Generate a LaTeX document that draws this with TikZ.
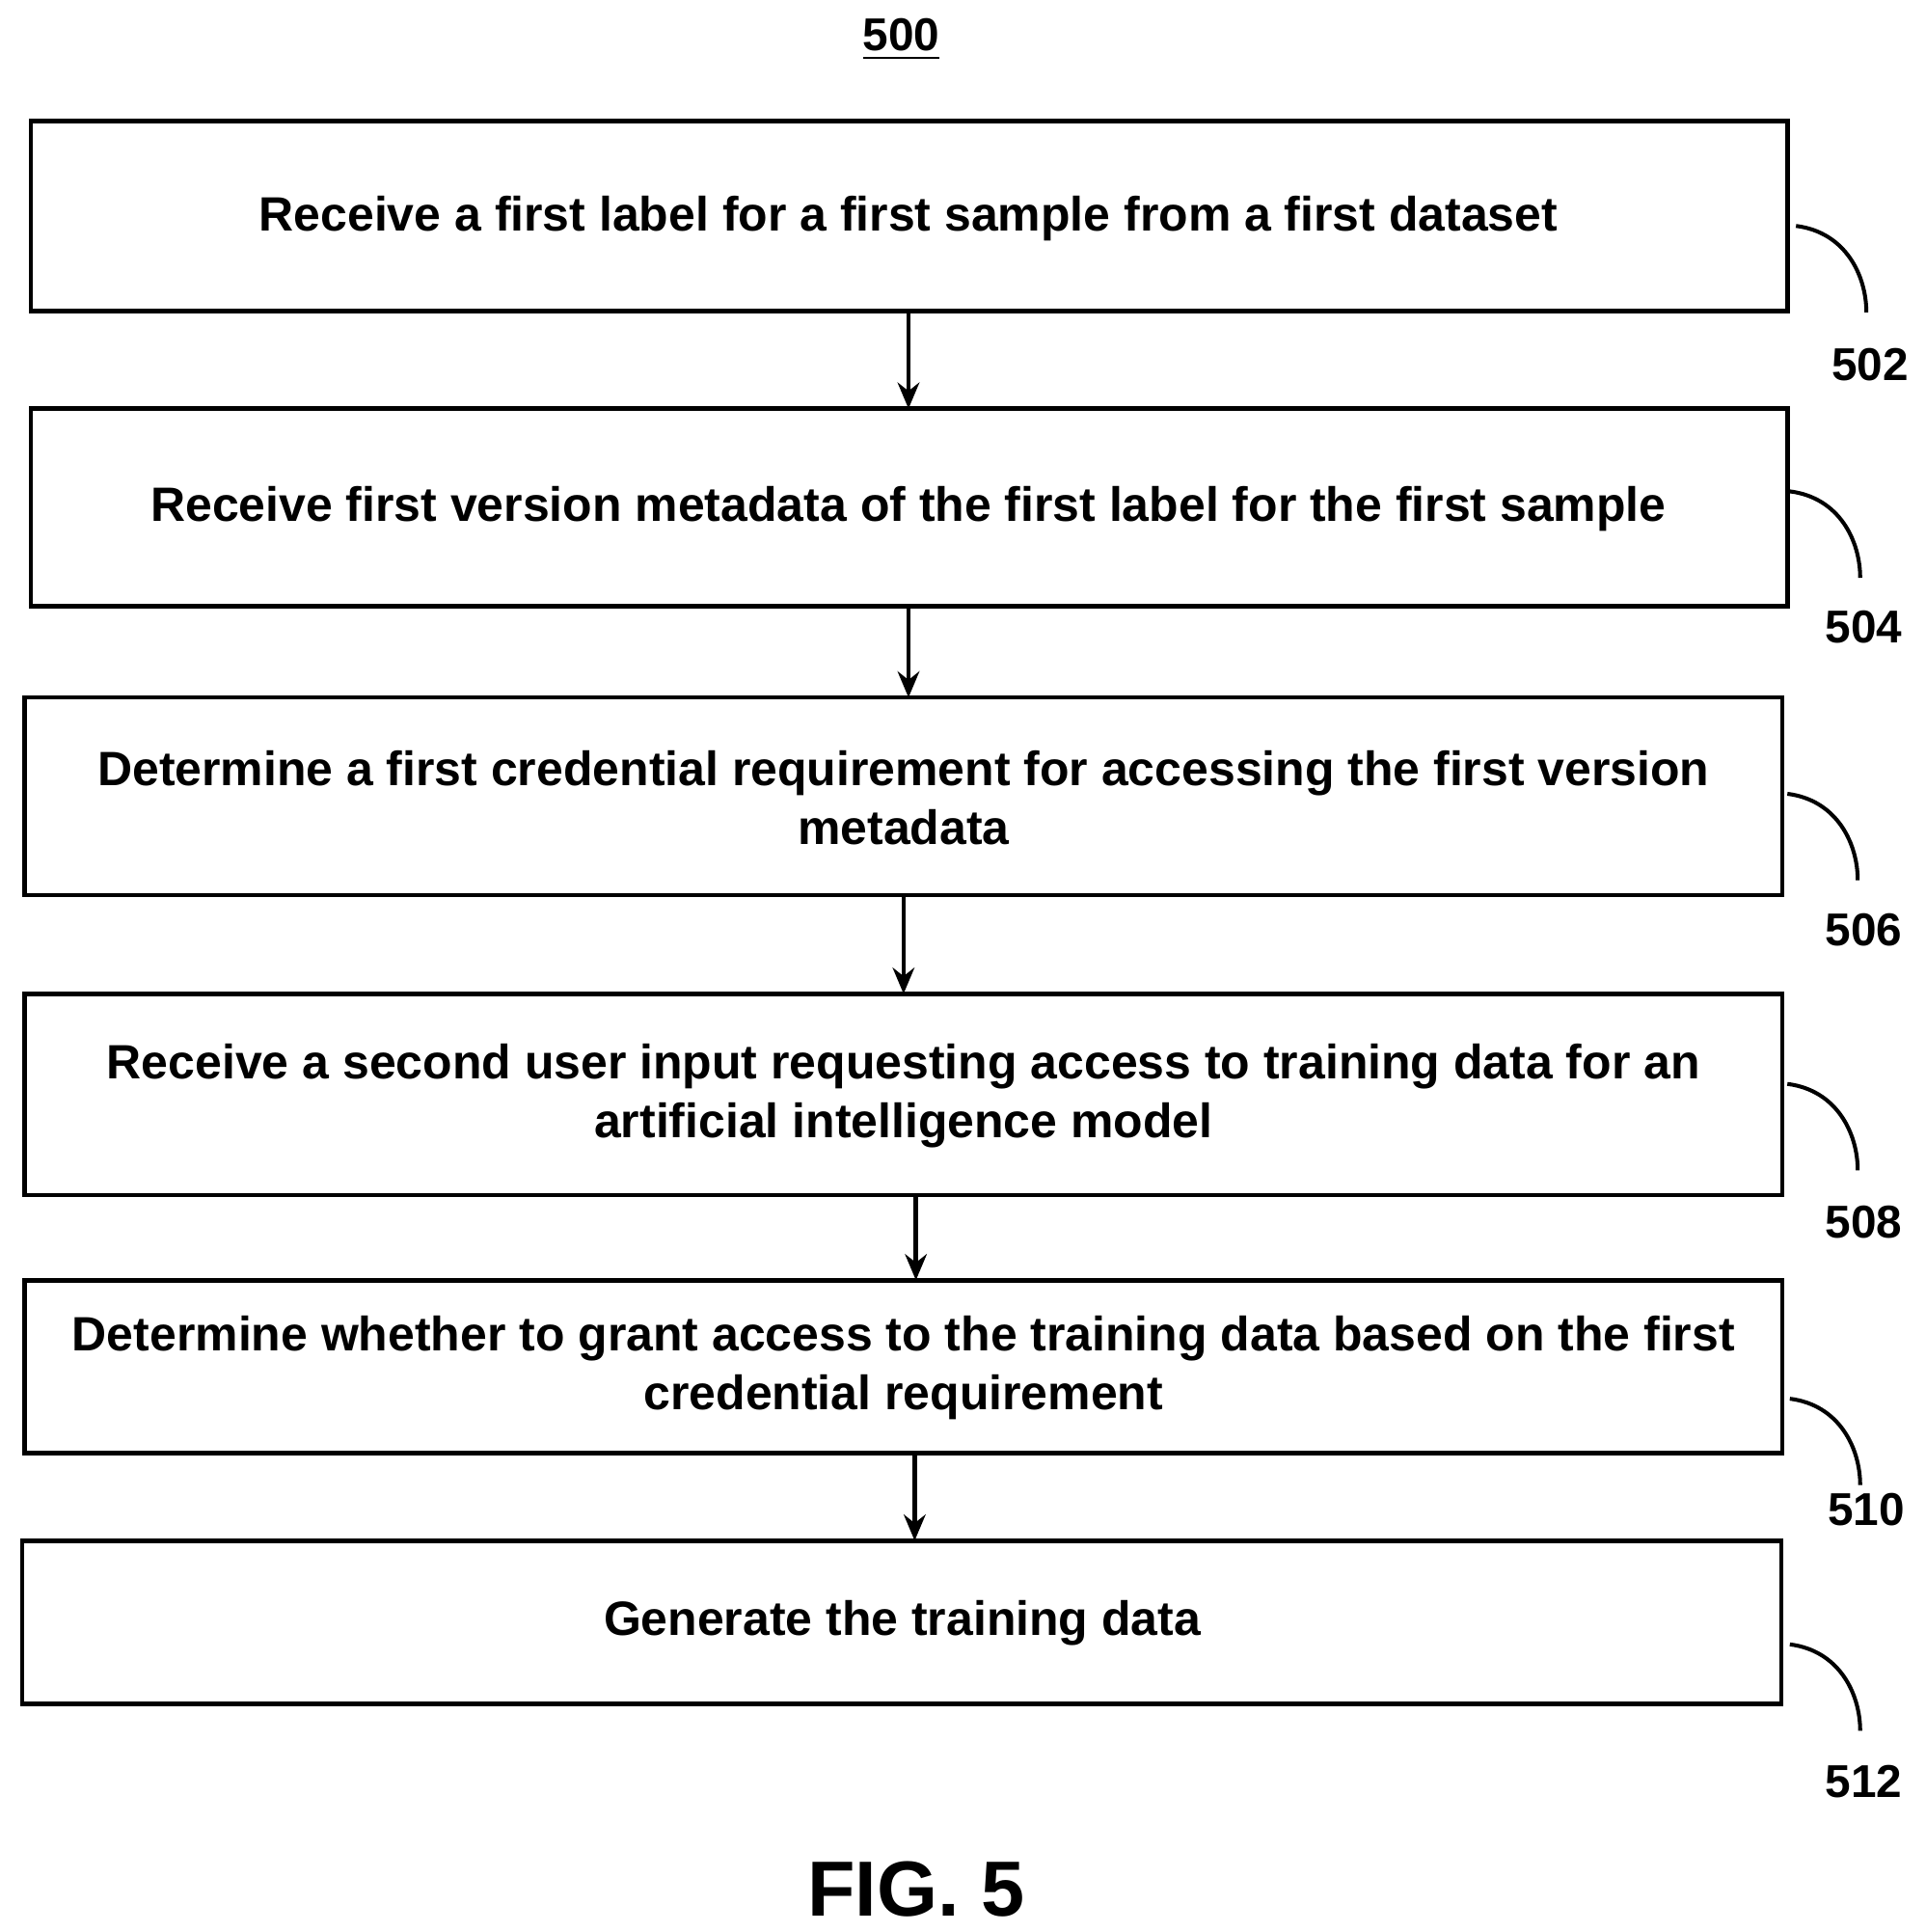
\documentclass[tikz,border=0pt]{standalone}
\usepackage{fontspec}
\setmainfont{Liberation Sans}
\usetikzlibrary{arrows.meta}
\begin{document}
\begin{tikzpicture}[x=0.01cm,y=-0.01cm,
 box/.style={draw,line width=1pt},
 txt/.style={font=\bfseries\fontsize{11.1}{13.5}\selectfont,align=center},
 arr/.style={line width=1pt,-{Stealth[length=6pt,width=5pt]}},
 lead/.style={line width=0.9pt},
 num/.style={font=\bfseries\fontsize{10.6}{12}\selectfont}]
\useasboundingbox (0,0) rectangle (1560,1565);
\node[num] (t500) at (730,32) {\underline{500}};
\draw[box] (25,98) rectangle (1448,252); \node[txt] (a) at (736,177) {Receive a first label for a first sample from a first dataset};
\draw[box] (25,331) rectangle (1448,491); \node[txt] (b) at (736,412) {Receive first version metadata of the first label for the first sample};
\draw[box] (20,565) rectangle (1444,725); \node[txt] (c) at (732,646) {Determine a first credential requirement for accessing the first version\\metadata};
\draw[box] (20,805) rectangle (1444,968); \node[txt] (d) at (732,888) {Receive a second user input requesting access to training data for an\\artificial intelligence model};
\draw[box] (20,1037) rectangle (1444,1177); \node[txt] (e) at (732,1108) {Determine whether to grant access to the training data based on the first\\credential requirement};
\draw[box] (18,1248) rectangle (1443,1380); \node[txt] (f) at (731,1315) {Generate the training data};
\coordinate (a1) at (736,252); \coordinate (a2) at (736,331);
\coordinate (b1) at (736,491); \coordinate (b2) at (736,565);
\coordinate (c1) at (732,725); \coordinate (c2) at (732,805);
\coordinate (d1) at (742,968); \coordinate (d2) at (742,1037);
\coordinate (e1) at (741,1177); \coordinate (e2) at (741,1248);
\draw[arr] (a1)--(a2); \draw[arr] (b1)--(b2); \draw[arr] (c1)--(c2); \draw[arr] (d1)--(d2); \draw[arr] (e1)--(e2);
\foreach \n/\x/\y/\lx/\ly in {502/1455/183/1515/295, 504/1450/398/1510/508, 506/1448/643/1510/753, 508/1448/878/1510/990, 510/1450/1133/1512/1223, 512/1450/1332/1510/1443}{
 \draw[lead] (\x,\y) .. controls (\x+40,\y+5) and (\x+57,\y+40) .. (\x+57,\y+70);
 \node[num] (n\n) at (\lx,\ly) {\n};
}
\node[font=\bfseries\fontsize{18}{22}\selectfont] (fig) at (742,1530) {FIG. 5};
\end{tikzpicture}
\end{document}
